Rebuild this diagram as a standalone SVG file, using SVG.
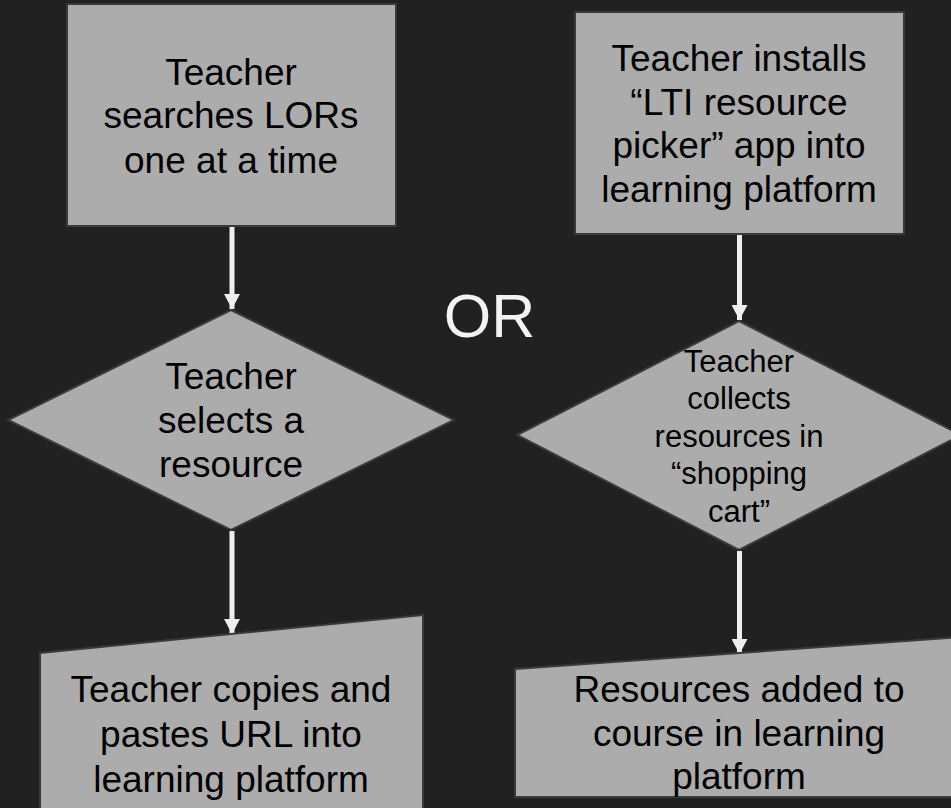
<svg xmlns="http://www.w3.org/2000/svg" width="951" height="808" viewBox="0 0 951 808">
<defs>
<style>
.node{fill:#acacac;stroke:#3a3a3a;stroke-width:2}
.lbl{font-family:"Liberation Sans",Arial,sans-serif;font-size:37px;fill:#000;text-anchor:middle}
.sm{font-size:31px}
.edge{stroke:#eeeeee;stroke-width:5;fill:none}
.or{font-family:"Liberation Sans",Arial,sans-serif;font-size:61px;fill:#f3f3f3;text-anchor:middle}
</style>
<marker id="ah" markerUnits="userSpaceOnUse" markerWidth="15" markerHeight="16" viewBox="0 0 15 16" refX="15" refY="8" orient="auto">
<path d="M0,0 L15,8 L0,16 Z" fill="#eeeeee"/>
</marker>
</defs>
<rect width="951" height="808" fill="#212121"/>
<g id="connectors">
<line class="edge" x1="232" y1="227" x2="232" y2="309" marker-end="url(#ah)"/>
<line class="edge" x1="739.5" y1="235" x2="739.5" y2="320" marker-end="url(#ah)"/>
<line class="edge" x1="232" y1="531" x2="232" y2="634" marker-end="url(#ah)"/>
<line class="edge" x1="739.5" y1="551" x2="739.5" y2="654" marker-end="url(#ah)"/>
</g>
<g id="n1">
<rect class="node" x="67" y="4" width="329" height="222"/>
<text class="lbl"><tspan x="231" y="85">Teacher</tspan><tspan x="231" y="128">searches LORs</tspan><tspan x="231" y="173">one at a time</tspan></text>
</g>
<g id="n2">
<rect class="node" x="575" y="12" width="329" height="222"/>
<text class="lbl"><tspan x="739" y="71">Teacher installs</tspan><tspan x="739" y="115">“LTI resource</tspan><tspan x="739" y="158">picker” app into</tspan><tspan x="739" y="202">learning platform</tspan></text>
</g>
<g id="or">
<text class="or" x="489.5" y="337">OR</text>
</g>
<g id="n3">
<polygon class="node" points="231,310 454,420 231,530 8,420"/>
<text class="lbl"><tspan x="231" y="389">Teacher</tspan><tspan x="231" y="433">selects a</tspan><tspan x="231" y="477">resource</tspan></text>
</g>
<g id="n4">
<polygon class="node" points="739,321 961,435 739,550 517,435"/>
<text class="lbl sm"><tspan x="739" y="372">Teacher</tspan><tspan x="739" y="409">collects</tspan><tspan x="739" y="447">resources in</tspan><tspan x="739" y="484">“shopping</tspan><tspan x="739" y="522">cart”</tspan></text>
</g>
<g id="n5">
<polygon class="node" points="40,653 423,615 423,830 40,830"/>
<text class="lbl"><tspan x="231" y="702">Teacher copies and</tspan><tspan x="231" y="747">pastes URL into</tspan><tspan x="231" y="792">learning platform</tspan></text>
</g>
<g id="n6">
<polygon class="node" points="515,669 963,637 963,797 515,797"/>
<text class="lbl"><tspan x="739" y="702">Resources added to</tspan><tspan x="739" y="746">course in learning</tspan><tspan x="739" y="789">platform</tspan></text>
</g>
</svg>
